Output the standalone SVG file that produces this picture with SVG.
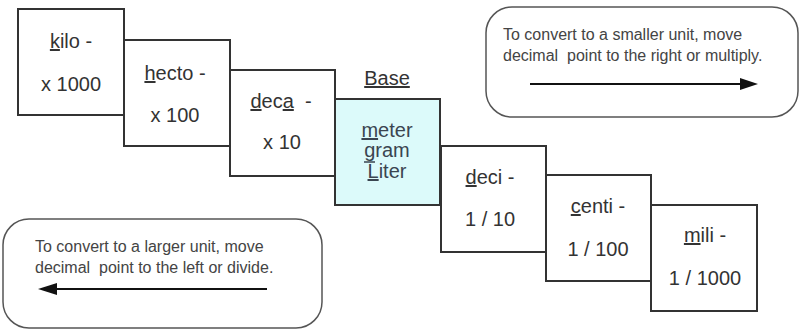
<svg xmlns="http://www.w3.org/2000/svg" width="803" height="332" viewBox="0 0 803 332">
<style>
.box{fill:#ffffff;stroke:#333333;stroke-width:2}
.base{fill:#dcfafa;stroke:#333333;stroke-width:2}
.note{fill:#ffffff;stroke:#555555;stroke-width:1.5}
.t{font-family:"Liberation Sans",Arial,sans-serif;font-size:20px;fill:#333333;text-anchor:middle;white-space:pre}
.tb{font-family:"Liberation Sans",Arial,sans-serif;font-size:20px;fill:#3a4550;text-anchor:middle}
.n{font-family:"Liberation Sans",Arial,sans-serif;font-size:16px;fill:#444444;white-space:pre}
.u{text-decoration:underline;text-decoration-skip-ink:none}
.ul{stroke:#3a4550;stroke-width:1.5}
.arr{stroke:#111111;stroke-width:2;fill:none}
.head{fill:#111111}
</style>
<rect width="803" height="332" fill="#ffffff"/>
<g id="kilo">
<rect class="box" x="18" y="9" width="106" height="106"/>
<text class="t" x="71" y="48"><tspan class="u">k</tspan>ilo -</text>
<text class="t" x="71" y="91">x 1000</text>
</g>
<g id="hecto">
<rect class="box" x="124" y="40" width="106" height="106"/>
<text class="t" x="175" y="80"><tspan class="u">h</tspan>ecto -</text>
<text class="t" x="175" y="122">x 100</text>
</g>
<g id="deca">
<rect class="box" x="230" y="70" width="105" height="106"/>
<text class="t" x="281" y="108"><tspan class="u">d</tspan>ec<tspan class="u">a</tspan>  -</text>
<text class="t" x="282" y="149">x 10</text>
</g>
<g id="base">
<text class="t" x="387" y="85"><tspan class="u">Base</tspan></text>
<rect class="base" x="335" y="99" width="105" height="106"/>
<text class="tb" x="387" y="137"><tspan class="u">m</tspan>eter</text>
<text class="tb" x="387" y="157">gram</text>
<line class="ul" x1="364" y1="162" x2="375" y2="162"/>
<text class="tb" x="387" y="178"><tspan class="u">L</tspan>iter</text>
</g>
<g id="deci">
<rect class="box" x="441" y="146" width="105" height="106"/>
<text class="t" x="490" y="184"><tspan class="u">d</tspan>eci -</text>
<text class="t" x="490" y="226">1 / 10</text>
</g>
<g id="centi">
<rect class="box" x="546" y="175" width="105" height="106"/>
<text class="t" x="598" y="213"><tspan class="u">c</tspan>enti -</text>
<text class="t" x="598" y="256">1 / 100</text>
</g>
<g id="mili">
<rect class="box" x="651" y="205" width="106" height="106"/>
<text class="t" x="705" y="242"><tspan class="u">m</tspan>ili -</text>
<text class="t" x="705" y="285">1 / 1000</text>
</g>
<g id="note-smaller">
<rect class="note" x="486" y="7" width="312" height="110" rx="26" ry="26"/>
<text class="n" x="503" y="40">To convert to a smaller unit, move</text>
<text class="n" x="503" y="61">decimal  point to the right or multiply.</text>
</g>
<g id="note-larger">
<rect class="note" x="3" y="219" width="319" height="109" rx="26" ry="26"/>
<text class="n" x="35" y="252">To convert to a larger unit, move</text>
<text class="n" x="35" y="273">decimal  point to the left or divide.</text>
</g>
<g id="connectors">
<line class="arr" x1="530" y1="84" x2="742" y2="84"/>
<polygon class="head" points="740,78 758,84 740,90"/>
<line class="arr" x1="267" y1="289" x2="55" y2="289"/>
<polygon class="head" points="57,283 38,289 57,295"/>
</g>
</svg>
